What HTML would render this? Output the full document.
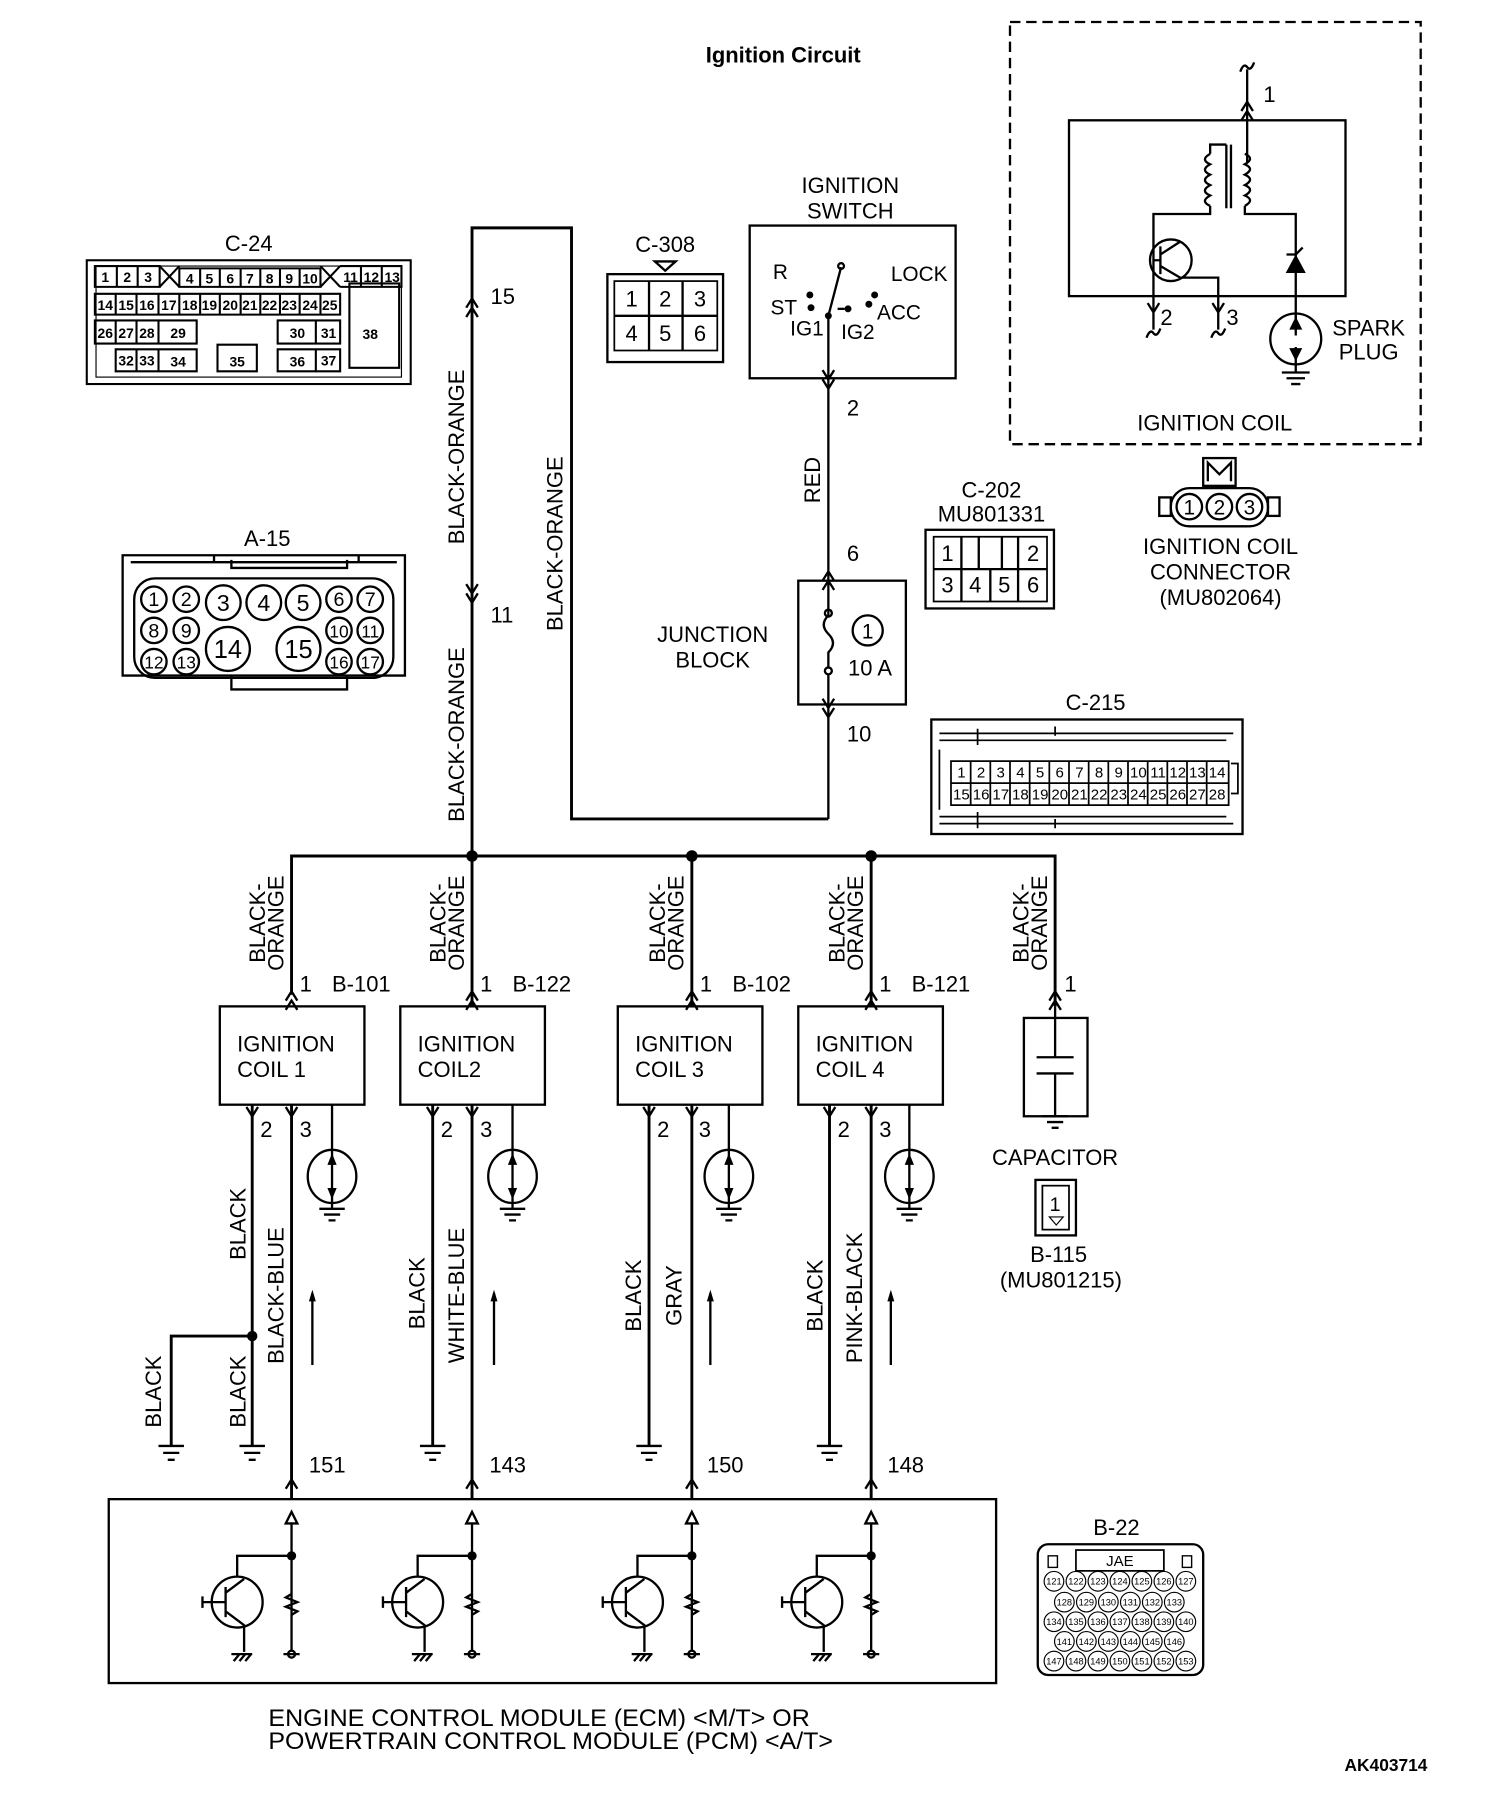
<!DOCTYPE html>
<html><head><meta charset="utf-8"><style>
html,body{margin:0;padding:0;background:#fff}
svg{display:block}
text{font-family:"Liberation Sans",sans-serif;fill:#000}
</style></head><body>
<svg width="1504" height="1808" viewBox="0 0 1300 1563" preserveAspectRatio="none" xmlns="http://www.w3.org/2000/svg">
<text x="677" y="54" font-size="19" font-weight="bold" text-anchor="middle">Ignition Circuit</text>

<!-- ===== Ignition coil internal (dashed) ===== -->
<g fill="none" stroke="#000" stroke-width="2">
<rect x="873" y="19" width="355" height="365" stroke-dasharray="9,5"/>
<rect x="924" y="104" width="239" height="152"/>
<path d="M1078 60 V140"/>
<path d="M1072 62 q3 -8 6 -4 q3 4 6 -4"/>
<path d="M1073 104 l5 -8 l5 8"/>
<path d="M1073 96 l5 -8 l5 8"/>
<path d="M1046 178 q-9 -4 0 -9 q-9 -4 0 -9 q-9 -4 0 -9 q-9 -4 0 -9 q-9 -4 0 -9"/>
<path d="M1046 133 V125 H1060 M1046 178 V185 H997 V215"/>
<path d="M1076 133 q9 4 0 9 q9 4 0 9 q9 4 0 9 q9 4 0 9 q9 4 0 9"/>
<path d="M1060 125 V180 M1064 125 V180"/>
<path d="M1076 178 V185 H1120 V290"/>
<circle cx="1012" cy="225" r="18"/>
<path d="M1003 213 V237 M1003 220 L1020 209 M1003 230 L1020 240 H1053 V285 M997 225 H1003"/>
<path d="M997 215 V285"/>
<path d="M1113 235 L1120 222 L1127 235 Z" fill="#000"/>
<path d="M1112 220 H1120 l6 -6"/>
<path d="M992 262 l5 8 l5 -8 M1048 262 l5 8 l5 -8"/>
<path d="M991 292 q3 -8 6 -4 q3 4 6 -4 M1047 292 q3 -8 6 -4 q3 4 6 -4"/>
<circle cx="1120" cy="293" r="22"/>
<path d="M1120 271 V285 M1120 300 V322 M1108 322 H1132 M1112 327 H1128 M1116 332 H1124"/>
<path d="M1116 284 L1120 276 L1124 284 Z M1116 302 L1120 310 L1124 302 Z" fill="#000"/>
</g>
<text x="1092" y="88" font-size="19">1</text>
<text x="1003" y="281" font-size="19">2</text>
<text x="1060" y="281" font-size="19">3</text>
<text x="1183" y="290" font-size="19" text-anchor="middle">SPARK</text>
<text x="1183" y="311" font-size="19" text-anchor="middle">PLUG</text>
<text x="1050" y="372" font-size="19" text-anchor="middle">IGNITION COIL</text>

<g fill="none" stroke="#000" stroke-width="2">
<rect x="1040" y="396" width="28" height="24"/>
<path d="M1044 416 V400 L1054 410 L1064 400 V416"/>
<rect x="1012" y="422" width="84" height="33" rx="16"/>
<rect x="1002" y="430" width="10" height="16"/>
<rect x="1096" y="430" width="10" height="16"/>
<circle cx="1028" cy="438" r="11"/><circle cx="1054" cy="438" r="11"/><circle cx="1080" cy="438" r="11"/>
</g>
<text x="1028" y="445" font-size="18" text-anchor="middle">1</text>
<text x="1054" y="445" font-size="18" text-anchor="middle">2</text>
<text x="1080" y="445" font-size="18" text-anchor="middle">3</text>
<text x="1055" y="479" font-size="19" text-anchor="middle">IGNITION COIL</text>
<text x="1055" y="501" font-size="19" text-anchor="middle">CONNECTOR</text>
<text x="1055" y="523" font-size="19" text-anchor="middle">(MU802064)</text>

<!-- ===== C-24 ===== -->
<text x="215" y="217" font-size="19" text-anchor="middle">C-24</text>
<g fill="none" stroke="#000" stroke-width="1.8">
<rect x="75" y="225" width="280" height="107"/>
<rect x="83" y="230" width="264" height="96" stroke-width="1"/>
<path d="M82 230 H138 V248 H82 Z M101 230 V248 M119 230 V248"/>
<path d="M138 230 L155 248 M155 230 L138 248"/>
<path d="M155 232 H277 V248 H155 Z"/>
<path d="M173 232 V248 M190 232 V248 M208 232 V248 M225 232 V248 M242 232 V248 M259 232 V248"/>
<path d="M277 230 L294 248 M294 230 L277 248"/>
<path d="M294 230 H347 V248 H294 M312 230 V248 M330 230 V248"/>
<path d="M82 254 H294 V272 H82 Z M100 254 V272 M118 254 V272 M137 254 V272 M155 254 V272 M173 254 V272 M190 254 V272 M208 254 V272 M225 254 V272 M242 254 V272 M259 254 V272 M277 254 V272"/>
<path d="M82 277 H170 V297 H82 Z M100 277 V297 M118 277 V297 M137 277 V297"/>
<path d="M240 277 H294 V297 H240 Z M273 277 V297"/>
<path d="M100 302 H170 V321 H100 Z M118 302 V321 M137 302 V321"/>
<path d="M188 298 H222 V321 H188 Z"/>
<path d="M240 302 H294 V321 H240 Z M273 302 V321"/>
<path d="M302 245 H345 V318 H302 Z"/>
</g>
<g font-size="12" font-weight="bold" text-anchor="middle">
<text x="91" y="244">1</text><text x="110" y="244">2</text><text x="128" y="244">3</text>
<text x="164" y="245">4</text><text x="181" y="245">5</text><text x="199" y="245">6</text><text x="216" y="245">7</text><text x="233" y="245">8</text><text x="250" y="245">9</text><text x="268" y="245">10</text>
<text x="303" y="244">11</text><text x="321" y="244">12</text><text x="339" y="244">13</text>
<text x="91" y="268">14</text><text x="109" y="268">15</text><text x="127" y="268">16</text><text x="146" y="268">17</text><text x="164" y="268">18</text><text x="181" y="268">19</text><text x="199" y="268">20</text><text x="216" y="268">21</text><text x="233" y="268">22</text><text x="250" y="268">23</text><text x="268" y="268">24</text><text x="285" y="268">25</text>
<text x="91" y="292">26</text><text x="109" y="292">27</text><text x="127" y="292">28</text><text x="154" y="292">29</text><text x="257" y="292">30</text><text x="284" y="292">31</text>
<text x="109" y="316">32</text><text x="127" y="316">33</text><text x="154" y="317">34</text><text x="205" y="317">35</text><text x="257" y="317">36</text><text x="284" y="316">37</text>
<text x="320" y="293">38</text>
</g>

<!-- ===== C-308 ===== -->
<text x="575" y="218" font-size="19" text-anchor="middle">C-308</text>
<g fill="none" stroke="#000" stroke-width="2">
<path d="M566 226 H584 L575 234 Z"/>
<rect x="525" y="237" width="100" height="76"/>
<rect x="531" y="243" width="89" height="60" stroke-width="1.5"/>
<path d="M531 273 H620 M561 243 V303 M590 243 V303"/>
</g>
<g font-size="19" text-anchor="middle">
<text x="546" y="265">1</text><text x="575" y="265">2</text><text x="605" y="265">3</text>
<text x="546" y="295">4</text><text x="575" y="295">5</text><text x="605" y="295">6</text>
</g>

<!-- ===== Ignition switch ===== -->
<text x="735" y="167" font-size="19" text-anchor="middle">IGNITION</text>
<text x="735" y="189" font-size="19" text-anchor="middle">SWITCH</text>
<g fill="none" stroke="#000" stroke-width="2">
<rect x="648" y="195" width="178" height="132"/>
<path d="M716 273 L727 231"/>
<circle cx="727" cy="230" r="2.5"/>
<path d="M716 273 V502"/>
<path d="M711 320 l5 8 l5 -8 M711 328 l5 8 l5 -8"/>
<path d="M724 267 H730"/>
</g>
<g fill="#000">
<circle cx="700" cy="255" r="3"/><circle cx="756" cy="255" r="3"/>
<circle cx="701" cy="266" r="3"/><circle cx="716" cy="273" r="3"/><circle cx="733" cy="267" r="3"/><circle cx="751" cy="263" r="3"/>
</g>
<g font-size="18">
<text x="668" y="241">R</text><text x="770" y="243">LOCK</text>
<text x="666" y="272">ST</text><text x="758" y="276">ACC</text>
<text x="683" y="290">IG1</text><text x="727" y="293">IG2</text>
</g>
<text x="732" y="359" font-size="19">2</text>
<text x="709" y="415" font-size="19" text-anchor="middle" transform="rotate(-90 709 415)">RED</text>
<text x="732" y="485" font-size="19">6</text>

<g fill="none" stroke="#000" stroke-width="2">
<rect x="690" y="502" width="93" height="107"/>
<path d="M711 502 l5 -8 l5 8 M711 510 l5 -8 l5 8"/>
<path d="M716 502 V532 q-8 8 0 16 q8 8 0 16 V578"/>
<circle cx="716" cy="580" r="3"/><circle cx="716" cy="530" r="3"/>
<path d="M716 583 V708"/>
<path d="M711 604 l5 8 l5 -8 M711 612 l5 8 l5 -8"/>
<circle cx="750" cy="545" r="13"/>
</g>
<text x="750" y="552" font-size="18" text-anchor="middle">1</text>
<text x="752" y="584" font-size="19" text-anchor="middle">10 A</text>
<text x="616" y="555" font-size="19" text-anchor="middle">JUNCTION</text>
<text x="616" y="577" font-size="19" text-anchor="middle">BLOCK</text>
<text x="732" y="641" font-size="19">10</text>

<g fill="none" stroke="#000" stroke-width="2.5">
<path d="M716 708 H494 V197 H408 V740"/>
<path d="M252 860 V740 H912 V870"/>
</g>
<g fill="none" stroke="#000" stroke-width="2">
<path d="M403 274 l5 -8 l5 8 M403 266 l5 -8 l5 8"/>
<path d="M403 505 l5 8 l5 -8 M403 513 l5 8 l5 -8"/>
</g>
<text x="424" y="263" font-size="19">15</text>
<text x="424" y="538" font-size="19">11</text>
<text x="401" y="395" font-size="19" text-anchor="middle" transform="rotate(-90 401 395)">BLACK-ORANGE</text>
<text x="486" y="470" font-size="19" text-anchor="middle" transform="rotate(-90 486 470)">BLACK-ORANGE</text>
<text x="401" y="635" font-size="19" text-anchor="middle" transform="rotate(-90 401 635)">BLACK-ORANGE</text>
<g fill="#000"><circle cx="408" cy="740" r="5"/><circle cx="598" cy="740" r="5"/><circle cx="753" cy="740" r="5"/></g>

<!-- C-202 -->
<text x="857" y="430" font-size="19" text-anchor="middle">C-202</text>
<text x="857" y="451" font-size="19" text-anchor="middle">MU801331</text>
<g fill="none" stroke="#000" stroke-width="2">
<rect x="800" y="458" width="111" height="68"/>
<path d="M807 464 H905 V520 H807 Z" stroke-width="1.5"/>
<path d="M807 492 H905 M831 464 V520 M856 492 V520 M880 464 V520 M846 464 V492 M866 464 V492"/>
</g>
<g font-size="19" text-anchor="middle">
<text x="819" y="485">1</text><text x="893" y="485">2</text>
<text x="819" y="512">3</text><text x="843" y="512">4</text><text x="868" y="512">5</text><text x="893" y="512">6</text>
</g>

<!-- A-15 -->
<text x="231" y="472" font-size="19" text-anchor="middle">A-15</text>
<g fill="none" stroke="#000" stroke-width="2">
<path d="M106 480 H350 V584 H106 Z"/>
<path d="M113 486 H343 M185 480 V486 M310 480 V486 M200 484 V491 H300 V484"/>
<path d="M200 584 V596 H300 V584"/>
<rect x="116" y="500" width="224" height="86" rx="18"/>
<circle cx="133" cy="518" r="11"/><circle cx="161" cy="518" r="11"/><circle cx="193" cy="521" r="15"/><circle cx="228" cy="521" r="15"/><circle cx="262" cy="521" r="15"/><circle cx="293" cy="518" r="11"/><circle cx="320" cy="518" r="11"/>
<circle cx="133" cy="545" r="11"/><circle cx="161" cy="545" r="11"/><circle cx="293" cy="545" r="11"/><circle cx="320" cy="545" r="11"/>
<circle cx="133" cy="572" r="11"/><circle cx="161" cy="572" r="11"/><circle cx="293" cy="572" r="11"/><circle cx="320" cy="572" r="11"/>
<circle cx="197" cy="561" r="19"/><circle cx="258" cy="561" r="19"/>
</g>
<g font-size="17" text-anchor="middle">
<text x="133" y="524">1</text><text x="161" y="524">2</text><text x="193" y="528" font-size="20">3</text><text x="228" y="528" font-size="20">4</text><text x="262" y="528" font-size="20">5</text><text x="293" y="524">6</text><text x="320" y="524">7</text>
<text x="133" y="551">8</text><text x="161" y="551">9</text><text x="293" y="551" font-size="15">10</text><text x="320" y="551" font-size="15">11</text>
<text x="133" y="578" font-size="15">12</text><text x="161" y="578" font-size="15">13</text><text x="293" y="578" font-size="15">16</text><text x="320" y="578" font-size="15">17</text>
<text x="197" y="569" font-size="22">14</text><text x="258" y="569" font-size="22">15</text>
</g>

<!-- C-215 -->
<text x="947" y="614" font-size="19" text-anchor="middle">C-215</text>
<g fill="none" stroke="#000" stroke-width="1.5">
<rect x="805" y="622" width="269" height="99" stroke-width="2"/>
<path d="M812 634 H1066 M812 640 H1060 M812 706 H1060 M812 712 H1066 M845 630 V644 M845 702 V716 M912 628 V636 M912 708 V716 M812 648 V700 M1064 660 H1070 V686 H1064"/>
<path d="M822 658 H1062 V696 H822 Z M822 677 H1062"/>
<path d="M839 658 V696 M856 658 V696 M873 658 V696 M890 658 V696 M907 658 V696 M924 658 V696 M941 658 V696 M958 658 V696 M975 658 V696 M992 658 V696 M1009 658 V696 M1026 658 V696 M1043 658 V696"/>
</g>
<g font-size="13" text-anchor="middle">
<text x="831" y="672">1</text><text x="848" y="672">2</text><text x="865" y="672">3</text><text x="882" y="672">4</text><text x="899" y="672">5</text><text x="916" y="672">6</text><text x="933" y="672">7</text><text x="950" y="672">8</text><text x="967" y="672">9</text><text x="984" y="672">10</text><text x="1001" y="672">11</text><text x="1018" y="672">12</text><text x="1035" y="672">13</text><text x="1052" y="672">14</text>
<text x="831" y="691">15</text><text x="848" y="691">16</text><text x="865" y="691">17</text><text x="882" y="691">18</text><text x="899" y="691">19</text><text x="916" y="691">20</text><text x="933" y="691">21</text><text x="950" y="691">22</text><text x="967" y="691">23</text><text x="984" y="691">24</text><text x="1001" y="691">25</text><text x="1018" y="691">26</text><text x="1035" y="691">27</text><text x="1052" y="691">28</text>
</g>

<!-- ===== Coils ===== -->
<g fill="none" stroke="#000" stroke-width="2.5">
<path d="M408 740 V870 M598 740 V870 M753 740 V870"/>
<path d="M218 955 V1250 M374 955 V1250 M561 955 V1250 M717 955 V1250"/>
<path d="M218 1155 H148 V1250"/>
<path d="M252 955 V1295 M408 955 V1295 M598 955 V1295 M753 955 V1295"/>
</g>
<circle cx="218" cy="1155" r="4.5" fill="#000"/>
<g fill="none" stroke="#000" stroke-width="2">
<rect x="190" y="870" width="125" height="85"/>
<rect x="346" y="870" width="125" height="85"/>
<rect x="534" y="870" width="125" height="85"/>
<rect x="690" y="870" width="125" height="85"/>
<path d="M247 865 l5 -8 l5 8 M247 873 l5 -8 l5 8 M403 865 l5 -8 l5 8 M403 873 l5 -8 l5 8 M593 865 l5 -8 l5 8 M593 873 l5 -8 l5 8 M748 865 l5 -8 l5 8 M748 873 l5 -8 l5 8 M907 865 l5 -8 l5 8 M907 873 l5 -8 l5 8"/>
<path d="M213 957 l5 8 l5 -8 M247 957 l5 8 l5 -8 M369 957 l5 8 l5 -8 M403 957 l5 8 l5 -8 M556 957 l5 8 l5 -8 M593 957 l5 8 l5 -8 M712 957 l5 8 l5 -8 M748 957 l5 8 l5 -8"/>
<path d="M247 1287 l5 -8 l5 8 M403 1287 l5 -8 l5 8 M593 1287 l5 -8 l5 8 M748 1287 l5 -8 l5 8"/>
<path d="M287 955 V1045 M443 955 V1045 M630 955 V1045 M786 955 V1045"/>
<ellipse cx="287" cy="1017" rx="21" ry="23"/><ellipse cx="443" cy="1017" rx="21" ry="23"/><ellipse cx="630" cy="1017" rx="21" ry="23"/><ellipse cx="786" cy="1017" rx="21" ry="23"/>
<path d="M276 1045 H298 M280 1050 H294 M284 1055 H290 M432 1045 H454 M436 1050 H450 M440 1055 H446 M619 1045 H641 M623 1050 H637 M627 1055 H633 M775 1045 H797 M779 1050 H793 M783 1055 H789"/>
<path d="M137 1250 H159 M141 1256 H155 M145 1262 H151 M207 1250 H229 M211 1256 H225 M215 1262 H221 M363 1250 H385 M367 1256 H381 M371 1262 H377 M550 1250 H572 M554 1256 H568 M558 1262 H564 M706 1250 H728 M710 1256 H724 M714 1262 H720"/>
<path d="M270 1180 V1118 M427 1180 V1118 M614 1180 V1118 M770 1180 V1118"/>
</g>
<g fill="#000">
<path d="M283 1007 l4 -10 l4 10 Z M283 1027 l4 10 l4 -10 Z M439 1007 l4 -10 l4 10 Z M439 1027 l4 10 l4 -10 Z M626 1007 l4 -10 l4 10 Z M626 1027 l4 10 l4 -10 Z M782 1007 l4 -10 l4 10 Z M782 1027 l4 10 l4 -10 Z"/>
<path d="M267 1125 l3 -10 l3 10 Z M424 1125 l3 -10 l3 10 Z M611 1125 l3 -10 l3 10 Z M767 1125 l3 -10 l3 10 Z"/>
</g>
<g font-size="19">
<text x="259" y="857">1</text><text x="287" y="857">B-101</text>
<text x="415" y="857">1</text><text x="443" y="857">B-122</text>
<text x="605" y="857">1</text><text x="633" y="857">B-102</text>
<text x="760" y="857">1</text><text x="788" y="857">B-121</text>
<text x="920" y="857">1</text>
<text x="205" y="909">IGNITION</text><text x="205" y="931">COIL 1</text>
<text x="361" y="909">IGNITION</text><text x="361" y="931">COIL2</text>
<text x="549" y="909">IGNITION</text><text x="549" y="931">COIL 3</text>
<text x="705" y="909">IGNITION</text><text x="705" y="931">COIL 4</text>
<text x="225" y="983">2</text><text x="259" y="983">3</text>
<text x="381" y="983">2</text><text x="415" y="983">3</text>
<text x="568" y="983">2</text><text x="604" y="983">3</text>
<text x="724" y="983">2</text><text x="760" y="983">3</text>
<text x="267" y="1273">151</text><text x="423" y="1273">143</text><text x="611" y="1273">150</text><text x="767" y="1273">148</text>
</g>
<g font-size="19" text-anchor="middle">
<text transform="translate(229 798) rotate(-90)">BLACK-</text><text transform="translate(245 798) rotate(-90)">ORANGE</text>
<text transform="translate(385 798) rotate(-90)">BLACK-</text><text transform="translate(401 798) rotate(-90)">ORANGE</text>
<text transform="translate(575 798) rotate(-90)">BLACK-</text><text transform="translate(591 798) rotate(-90)">ORANGE</text>
<text transform="translate(730 798) rotate(-90)">BLACK-</text><text transform="translate(746 798) rotate(-90)">ORANGE</text>
<text transform="translate(889 798) rotate(-90)">BLACK-</text><text transform="translate(905 798) rotate(-90)">ORANGE</text>
<text transform="translate(212 1058) rotate(-90)">BLACK</text>
<text transform="translate(245 1120) rotate(-90)">BLACK-BLUE</text>
<text transform="translate(139 1203) rotate(-90)">BLACK</text>
<text transform="translate(212 1203) rotate(-90)">BLACK</text>
<text transform="translate(367 1118) rotate(-90)">BLACK</text>
<text transform="translate(401 1120) rotate(-90)">WHITE-BLUE</text>
<text transform="translate(554 1120) rotate(-90)">BLACK</text>
<text transform="translate(589 1120) rotate(-90)">GRAY</text>
<text transform="translate(711 1120) rotate(-90)">BLACK</text>
<text transform="translate(745 1122) rotate(-90)">PINK-BLACK</text>
</g>

<!-- capacitor -->
<g fill="none" stroke="#000" stroke-width="2">
<rect x="885" y="880" width="55" height="85"/>
<path d="M912 870 V914 M896 914 H928 M896 928 H928 M912 928 V965 M901 965 H923 M905 970 H919 M909 975 H915"/>
<rect x="895" y="1020" width="35" height="48"/>
<rect x="901" y="1025" width="23" height="38" stroke-width="1.5"/>
<path d="M907 1052 H919 L913 1059 Z" stroke-width="1"/>
</g>
<text x="912" y="1007" font-size="19" text-anchor="middle">CAPACITOR</text>
<text x="912" y="1047" font-size="17" text-anchor="middle">1</text>
<text x="915" y="1091" font-size="19" text-anchor="middle">B-115</text>
<text x="917" y="1113" font-size="19" text-anchor="middle">(MU801215)</text>

<!-- ECM -->
<g fill="none" stroke="#000" stroke-width="2">
<rect x="94" y="1296" width="767" height="159"/>
</g>
<g fill="none" stroke="#000" stroke-width="2" id="tr">
<path d="M247 1317 L252 1307 L257 1317 Z M252 1317 V1427"/>
<path d="M252 1345 H205 V1363"/>
<circle cx="205" cy="1385" r="22"/>
<path d="M195 1372 V1398 M175 1385 H195 M175 1380 V1390 M195 1377 L211 1365 M195 1393 L211 1405 V1428"/>
<path d="M252 1378 l-5 3 l10 4 l-10 4 l10 4 l-5 3"/>
<circle cx="252" cy="1430" r="3"/>
<path d="M245 1430 H259 M200 1430 H218 M202 1436 l5 -6 M207 1436 l5 -6 M212 1436 l5 -6"/>
</g>
<use href="#tr" x="156"/>
<use href="#tr" x="346"/>
<use href="#tr" x="501"/>
<g fill="#000"><circle cx="252" cy="1345" r="4"/><circle cx="408" cy="1345" r="4"/><circle cx="598" cy="1345" r="4"/><circle cx="753" cy="1345" r="4"/></g>
<text x="232" y="1492" font-size="21" textLength="468" lengthAdjust="spacingAndGlyphs">ENGINE CONTROL MODULE (ECM) &lt;M/T&gt; OR</text>
<text x="232" y="1512" font-size="21" textLength="488" lengthAdjust="spacingAndGlyphs">POWERTRAIN CONTROL MODULE (PCM) &lt;A/T&gt;</text>

<!-- B-22 -->
<text x="965" y="1327" font-size="19" text-anchor="middle">B-22</text>
<g fill="none" stroke="#000" stroke-width="2">
<rect x="897" y="1335" width="143" height="113" rx="9"/>
<rect x="930" y="1340" width="76" height="18" stroke-width="1.5"/>
<rect x="906" y="1345" width="8" height="10" stroke-width="1.2"/><rect x="1022" y="1345" width="8" height="10" stroke-width="1.2"/>
</g>
<g fill="none" stroke="#000" stroke-width="1">
<circle cx="911" cy="1367" r="8.5"/><circle cx="930" cy="1367" r="8.5"/><circle cx="949" cy="1367" r="8.5"/><circle cx="968" cy="1367" r="8.5"/><circle cx="987" cy="1367" r="8.5"/><circle cx="1006" cy="1367" r="8.5"/><circle cx="1025" cy="1367" r="8.5"/>
<circle cx="920" cy="1385" r="8.5"/><circle cx="939" cy="1385" r="8.5"/><circle cx="958" cy="1385" r="8.5"/><circle cx="977" cy="1385" r="8.5"/><circle cx="996" cy="1385" r="8.5"/><circle cx="1015" cy="1385" r="8.5"/>
<circle cx="911" cy="1402" r="8.5"/><circle cx="930" cy="1402" r="8.5"/><circle cx="949" cy="1402" r="8.5"/><circle cx="968" cy="1402" r="8.5"/><circle cx="987" cy="1402" r="8.5"/><circle cx="1006" cy="1402" r="8.5"/><circle cx="1025" cy="1402" r="8.5"/>
<circle cx="920" cy="1419" r="8.5"/><circle cx="939" cy="1419" r="8.5"/><circle cx="958" cy="1419" r="8.5"/><circle cx="977" cy="1419" r="8.5"/><circle cx="996" cy="1419" r="8.5"/><circle cx="1015" cy="1419" r="8.5"/>
<circle cx="911" cy="1436" r="8.5"/><circle cx="930" cy="1436" r="8.5"/><circle cx="949" cy="1436" r="8.5"/><circle cx="968" cy="1436" r="8.5"/><circle cx="987" cy="1436" r="8.5"/><circle cx="1006" cy="1436" r="8.5"/><circle cx="1025" cy="1436" r="8.5"/>
</g>
<text x="968" y="1354" font-size="13" text-anchor="middle">JAE</text>
<g font-size="8" text-anchor="middle">
<text x="911" y="1370">121</text><text x="930" y="1370">122</text><text x="949" y="1370">123</text><text x="968" y="1370">124</text><text x="987" y="1370">125</text><text x="1006" y="1370">126</text><text x="1025" y="1370">127</text>
<text x="920" y="1388">128</text><text x="939" y="1388">129</text><text x="958" y="1388">130</text><text x="977" y="1388">131</text><text x="996" y="1388">132</text><text x="1015" y="1388">133</text>
<text x="911" y="1405">134</text><text x="930" y="1405">135</text><text x="949" y="1405">136</text><text x="968" y="1405">137</text><text x="987" y="1405">138</text><text x="1006" y="1405">139</text><text x="1025" y="1405">140</text>
<text x="920" y="1422">141</text><text x="939" y="1422">142</text><text x="958" y="1422">143</text><text x="977" y="1422">144</text><text x="996" y="1422">145</text><text x="1015" y="1422">146</text>
<text x="911" y="1439">147</text><text x="930" y="1439">148</text><text x="949" y="1439">149</text><text x="968" y="1439">150</text><text x="987" y="1439">151</text><text x="1006" y="1439">152</text><text x="1025" y="1439">153</text>
</g>

<text x="1198" y="1531" font-size="15" font-weight="bold" text-anchor="middle">AK403714</text>
</svg>
</body></html>
